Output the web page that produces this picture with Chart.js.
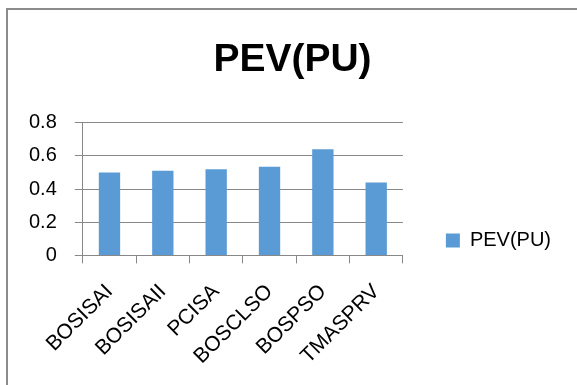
<!DOCTYPE html>
<html>
<head>
<meta charset="utf-8">
<script src="https://cdn.jsdelivr.net/npm/chart.js@4/dist/chart.umd.min.js"></script>
<style>
  html, body { margin: 0; padding: 0; background: #fff; }
  #wrap { width: 577px; height: 385px; position: relative; }
</style>
</head>
<body>
<div id="wrap"><canvas id="c" width="577" height="385"></canvas></div>
<script>
const categories = ['BOSISAI', 'BOSISAII', 'PCISA', 'BOSCLSO', 'BOSPSO', 'TMASPRV'];
const pevValues = [0.50, 0.51, 0.52, 0.535, 0.64, 0.44];
const seriesName = 'PEV(PU)';
const yTicks = [0, 0.2, 0.4, 0.6, 0.8];

const FONT = "'Liberation Sans', Arial, sans-serif";
const GRID = '#888888';

// Frame around the chart object (right and bottom edges fall outside the canvas)
const framePlugin = {
  id: 'frame',
  afterDraw(chart) {
    const ctx = chart.ctx;
    ctx.save();
    ctx.strokeStyle = '#8c8c8c';
    ctx.lineWidth = 2;
    ctx.strokeRect(7, 9, chart.width + 20, chart.height + 20);
    ctx.restore();
  }
};

// Move the legend column right and down, leaving a gap after the plot area,
// and centre the title over the whole frame rather than the padded box
const blockShift = {
  id: 'blockShift',
  afterLayout(chart) {
    const lg = chart.legend;
    if (lg) {
      const dx = 33, dy = 43;
      lg.left += dx; lg.right += dx;
      lg.top += dy; lg.bottom += dy;
    }
    const tb = chart.titleBlock;
    if (tb) {
      const tx = 23;
      tb.left += tx; tb.right += tx;
    }
  }
};

new Chart(document.getElementById('c'), {
  type: 'bar',
  data: {
    labels: categories,
    datasets: [{
      label: seriesName,
      data: pevValues,
      backgroundColor: '#5B9BD5',
      borderWidth: 0,
      barPercentage: 0.4,
      categoryPercentage: 1.0
    }]
  },
  options: {
    responsive: false,
    animation: false,
    devicePixelRatio: 1,
    layout: { padding: { left: 11, right: 49, top: 10, bottom: 0 } },
    plugins: {
      title: {
        display: true,
        text: seriesName,
        color: '#000',
        font: { family: FONT, size: 39, weight: 'bold' },
        padding: { top: 27, bottom: 39 }
      },
      legend: {
        display: true,
        position: 'right',
        labels: {
          color: '#000',
          font: { family: FONT, size: 20 },
          boxWidth: 14,
          boxHeight: 14,
          padding: 10
        }
      },
      tooltip: { enabled: false }
    },
    scales: {
      x: {
        grid: {
          display: true,
          drawOnChartArea: false,
          drawTicks: true,
          tickLength: 8,
          color: GRID,
          offset: true
        },
        border: { display: true, color: GRID },
        ticks: {
          color: '#000',
          font: { family: FONT, size: 21 },
          minRotation: 45,
          maxRotation: 45,
          padding: 16
        }
      },
      y: {
        min: 0,
        max: 0.8,
        afterBuildTicks(axis) { axis.ticks = yTicks.map(v => ({ value: v })); },
        grid: { color: GRID, tickLength: 8, drawTicks: true },
        border: { display: true, color: GRID },
        ticks: {
          color: '#000',
          font: { family: FONT, size: 20 },
          padding: 18,
          callback: v => (v === 0 ? '0' : v.toFixed(1))
        }
      }
    }
  },
  plugins: [framePlugin, blockShift]
});
</script>
</body>
</html>
